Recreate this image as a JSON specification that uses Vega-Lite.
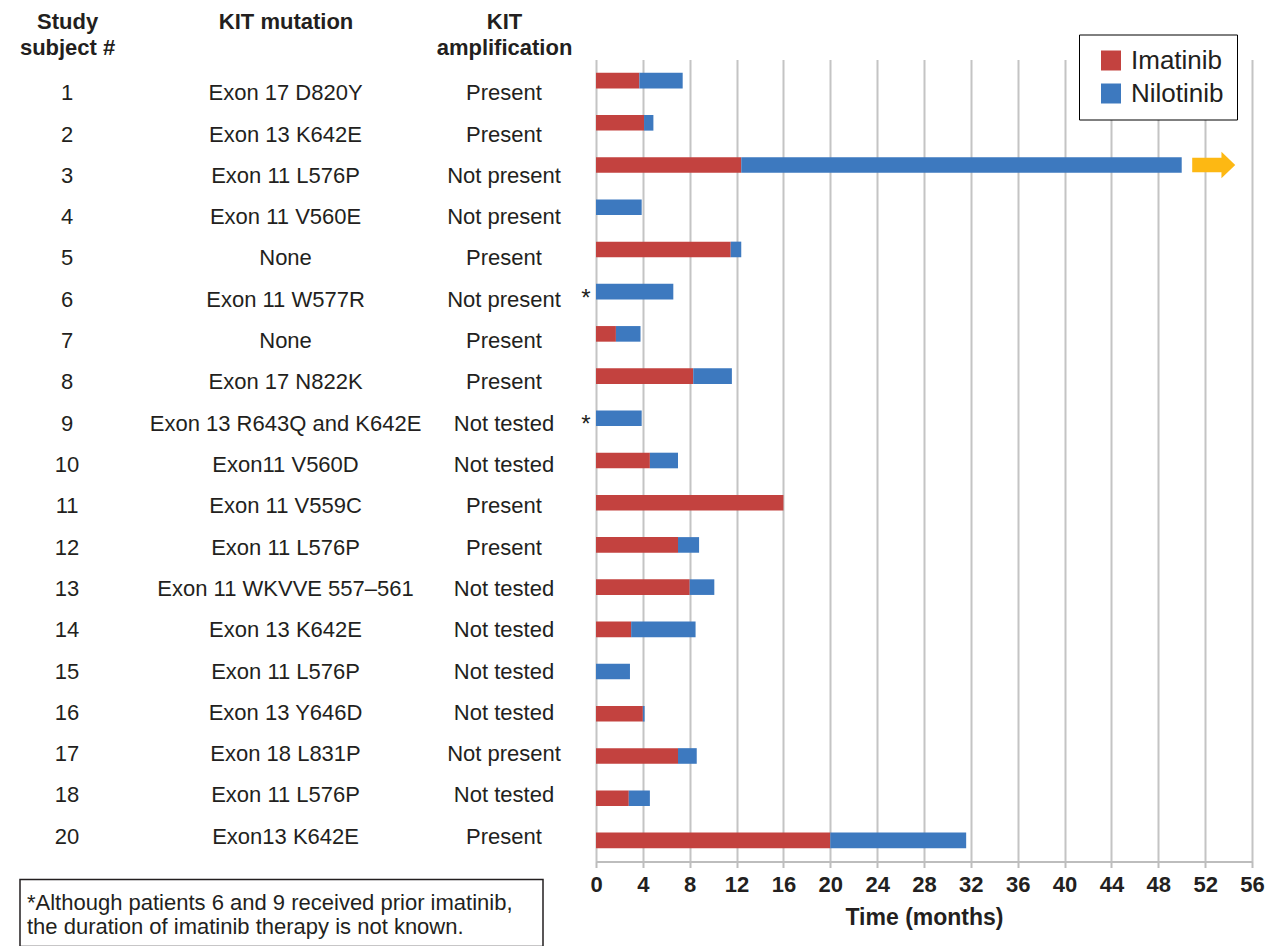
{
  "$schema": "https://vega.github.io/schema/vega-lite/v6.json",
  "background": "white",
  "padding": {"left": 19, "top": 10.5, "right": 0, "bottom": 0},
  "config": {
    "font": "Liberation Sans",
    "view": {"stroke": null},
    "text": {"font": "Liberation Sans", "color": "#231f20"},
    "axis": {"labelFont": "Liberation Sans", "titleFont": "Liberation Sans"},
    "legend": {"labelFont": "Liberation Sans"}
  },
  "datasets": {
    "subjects": [
      {"subject": "1", "mutation": "Exon 17 D820Y", "amplification": "Present", "Imatinib": 3.7, "Nilotinib": 3.7, "note": ""},
      {"subject": "2", "mutation": "Exon 13 K642E", "amplification": "Present", "Imatinib": 4.1, "Nilotinib": 0.8, "note": ""},
      {"subject": "3", "mutation": "Exon 11 L576P", "amplification": "Not present", "Imatinib": 12.4, "Nilotinib": 37.6, "note": ""},
      {"subject": "4", "mutation": "Exon 11 V560E", "amplification": "Not present", "Imatinib": 0, "Nilotinib": 3.9, "note": ""},
      {"subject": "5", "mutation": "None", "amplification": "Present", "Imatinib": 11.5, "Nilotinib": 0.9, "note": ""},
      {"subject": "6", "mutation": "Exon 11 W577R", "amplification": "Not present", "Imatinib": 0, "Nilotinib": 6.6, "note": "*"},
      {"subject": "7", "mutation": "None", "amplification": "Present", "Imatinib": 1.7, "Nilotinib": 2.1, "note": ""},
      {"subject": "8", "mutation": "Exon 17 N822K", "amplification": "Present", "Imatinib": 8.3, "Nilotinib": 3.3, "note": ""},
      {"subject": "9", "mutation": "Exon 13 R643Q and K642E", "amplification": "Not tested", "Imatinib": 0, "Nilotinib": 3.9, "note": "*"},
      {"subject": "10", "mutation": "Exon11 V560D", "amplification": "Not tested", "Imatinib": 4.6, "Nilotinib": 2.4, "note": ""},
      {"subject": "11", "mutation": "Exon 11 V559C", "amplification": "Present", "Imatinib": 16.0, "Nilotinib": 0, "note": ""},
      {"subject": "12", "mutation": "Exon 11 L576P", "amplification": "Present", "Imatinib": 7.0, "Nilotinib": 1.8, "note": ""},
      {"subject": "13", "mutation": "Exon 11 WKVVE 557–561", "amplification": "Not tested", "Imatinib": 8.0, "Nilotinib": 2.1, "note": ""},
      {"subject": "14", "mutation": "Exon 13 K642E", "amplification": "Not tested", "Imatinib": 3.0, "Nilotinib": 5.5, "note": ""},
      {"subject": "15", "mutation": "Exon 11 L576P", "amplification": "Not tested", "Imatinib": 0, "Nilotinib": 2.9, "note": ""},
      {"subject": "16", "mutation": "Exon 13 Y646D", "amplification": "Not tested", "Imatinib": 4.0, "Nilotinib": 0.15, "note": ""},
      {"subject": "17", "mutation": "Exon 18 L831P", "amplification": "Not present", "Imatinib": 7.0, "Nilotinib": 1.6, "note": ""},
      {"subject": "18", "mutation": "Exon 11 L576P", "amplification": "Not tested", "Imatinib": 2.8, "Nilotinib": 1.8, "note": ""},
      {"subject": "20", "mutation": "Exon13 K642E", "amplification": "Present", "Imatinib": 20.0, "Nilotinib": 11.6, "note": ""}
    ],
    "ongoing": [{"subject": "3", "months": 50}],
    "footnote": [{"text": "*Although patients 6 and 9 received prior imatinib,\nthe duration of imatinib therapy is not known."}]
  },
  "columns": 2,
  "bounds": "flush",
  "spacing": {"row": 9, "column": 53},
  "resolve": {"scale": {"color": "independent"}, "legend": {"color": "independent"}},
  "concat": [
    {
      "width": 523,
      "height": 811,
      "data": {"name": "subjects"},
      "transform": [{"fold": ["subject", "mutation", "amplification"], "as": ["col", "val"]}],
      "mark": {"type": "text", "fontSize": 22, "baseline": "middle", "align": "center"},
      "encoding": {
        "x": {
          "field": "col", "type": "nominal",
          "scale": {"type": "point", "domain": ["subject", "mutation", "amplification"], "padding": 0.197, "align": 0.547},
          "axis": {
            "orient": "top", "title": null, "domain": false, "ticks": false, "tickSize": 0,
            "labelAngle": 0, "labelFontSize": 22, "labelFontWeight": "bold", "labelColor": "#231f20",
            "labelBaseline": "top", "labelAlign": "center", "labelPadding": 48, "labelLineHeight": 25.7,
            "labelLimit": 0, "labelOverlap": false,
            "labelExpr": "datum.value == 'subject' ? ['Study', 'subject #'] : datum.value == 'mutation' ? 'KIT mutation' : ['KIT', 'amplification']"
          }
        },
        "y": {
          "field": "subject", "type": "nominal",
          "sort": ["1","2","3","4","5","6","7","8","9","10","11","12","13","14","15","16","17","18","20"],
          "scale": {"type": "point", "padding": 0.8156},
          "axis": null
        },
        "text": {"field": "val"}
      }
    },
    {
      "width": 656,
      "height": 802,
      "layer": [
        {
          "data": {"name": "subjects"},
          "transform": [{"fold": ["Imatinib", "Nilotinib"], "as": ["drug", "months"]}],
          "mark": {"type": "bar"},
          "encoding": {
            "x": {
              "field": "months", "type": "quantitative", "stack": "zero",
              "scale": {"domain": [0, 56], "nice": false},
              "axis": {
                "values": [0,4,8,12,16,20,24,28,32,36,40,44,48,52,56],
                "grid": true, "gridColor": "#c4c4c4", "gridWidth": 2,
                "domainColor": "#bdbdbd", "domainWidth": 2,
                "tickColor": "#bdbdbd", "tickWidth": 2, "tickSize": 6,
                "labelFontSize": 22, "labelFontWeight": "bold", "labelColor": "#231f20",
                "labelPadding": 7, "labelFlush": false, "labelOverlap": false,
                "title": "Time (months)", "titleFontSize": 23, "titleFontWeight": "bold",
                "titleColor": "#231f20", "titlePadding": 11
              }
            },
            "y": {
              "field": "subject", "type": "nominal",
              "sort": ["1","2","3","4","5","6","7","8","9","10","11","12","13","14","15","16","17","18","20"],
              "scale": {"paddingInner": 0.63, "paddingOuter": 0.315},
              "axis": null
            },
            "color": {
              "field": "drug", "type": "nominal",
              "scale": {"domain": ["Imatinib", "Nilotinib"], "range": ["#C3423F", "#3D79BF"]},
              "legend": {
                "title": null, "orient": "none", "legendX": 483, "legendY": -25,
                "fillColor": "white", "strokeColor": "black",
                "padding": 13, "symbolOffset": 6,
                "symbolType": "square", "symbolSize": 400, "symbolStrokeWidth": 0,
                "labelFontSize": 26, "labelColor": "#231f20", "labelOffset": 7,
                "rowPadding": 7, "labelLimit": 0
              }
            }
          }
        },
        {
          "data": {"name": "subjects"},
          "transform": [{"filter": "datum.note == '*'"}],
          "mark": {"type": "text", "fontSize": 24, "align": "center", "baseline": "middle", "dx": -10, "dy": 7},
          "encoding": {
            "x": {"datum": 0, "type": "quantitative"},
            "y": {
              "field": "subject", "type": "nominal",
              "sort": ["1","2","3","4","5","6","7","8","9","10","11","12","13","14","15","16","17","18","20"]
            },
            "text": {"field": "note"}
          }
        },
        {
          "data": {"name": "ongoing"},
          "mark": {
            "type": "point", "filled": true, "opacity": 1, "color": "#FDB813", "size": 1849, "xOffset": 32,
            "shape": "M -1 -0.34 L 0.36 -0.34 L 0.36 -0.62 L 1 0 L 0.36 0.62 L 0.36 0.34 L -1 0.34 Z"
          },
          "encoding": {
            "x": {"field": "months", "type": "quantitative"},
            "y": {
              "field": "subject", "type": "nominal",
              "sort": ["1","2","3","4","5","6","7","8","9","10","11","12","13","14","15","16","17","18","20"]
            }
          }
        }
      ]
    },
    {
      "width": 523,
      "height": 67,
      "view": {"stroke": "#231f20", "strokeWidth": 1.5},
      "data": {"name": "footnote"},
      "mark": {"type": "text", "fontSize": 22, "lineHeight": 24, "lineBreak": "\n", "align": "left", "baseline": "top", "dx": 7, "dy": 13},
      "encoding": {
        "x": {"datum": 0, "type": "quantitative", "scale": {"domain": [0, 1]}, "axis": null},
        "y": {"datum": 1, "type": "quantitative", "scale": {"domain": [0, 1]}, "axis": null},
        "text": {"field": "text"}
      }
    }
  ]
}
